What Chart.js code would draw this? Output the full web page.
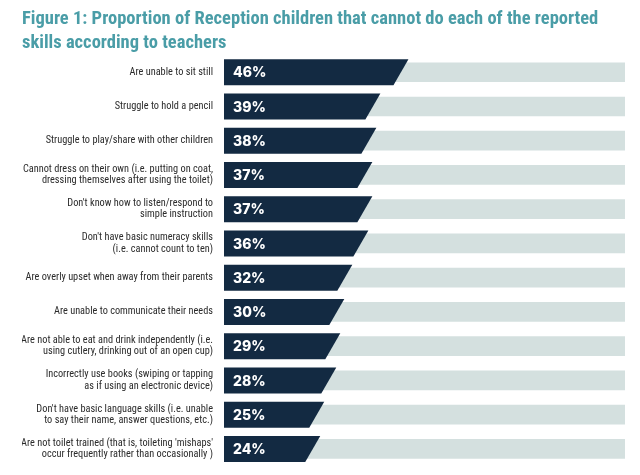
<!DOCTYPE html>
<html>
<head>
<meta charset="utf-8">
<script src="https://cdn.jsdelivr.net/npm/chart.js@4"></script>
<style>
  html, body { margin: 0; padding: 0; background: #ffffff; }
  #wrap { width: 640px; height: 475px; }
</style>
</head>
<body>
<div id="wrap"><canvas id="skillsChart"></canvas></div>
<script>

const skills = [
    "Are unable to sit still",
    "Struggle to hold a pencil",
    "Struggle to play/share with other children",
    ["Cannot dress on their own (i.e. putting on coat,", "dressing themselves after using the toilet)"],
    ["Don't know how to listen/respond to", "simple instruction"],
    ["Don't have basic numeracy skills", "(i.e. cannot count to ten)"],
    "Are overly upset when away from their parents",
    "Are unable to communicate their needs",
    ["Are not able to eat and drink independently (i.e.", "using cutlery, drinking out of an open cup)"],
    ["Incorrectly use books (swiping or tapping", "as if using an electronic device)"],
    ["Don't have basic language skills (i.e. unable", "to say their name, answer questions, etc.)"],
    ["Are not toilet trained (that is, toileting 'mishaps'", "occur frequently rather than occasionally )"]
];

const cannotDo = [46, 39, 38, 37, 37, 36, 32, 30, 29, 28, 25, 24];

const fullScale = [100, 100, 100, 100, 100, 100, 100, 100, 100, 100, 100, 100];

const titleLines = [
    "Figure 1: Proportion of Reception children that cannot do each of the reported",
    "skills according to teachers"
];

// slanted end of the dark bars + the white % labels
const slantBars = {
    id: 'slantBars',
    beforeDatasetDraw(chart, args){
        if(args.index !== 1) return;
        const ctx = chart.ctx;
        const meta = chart.getDatasetMeta(1);
        ctx.save();
        ctx.fillStyle = '#132a42';
        meta.data.forEach(el => {
            const p = el.getProps(['x', 'y', 'base', 'height'], true);
            const top = p.y - p.height / 2;
            const bottom = p.y + p.height / 2;
            ctx.beginPath();
            ctx.moveTo(p.base, top);
            ctx.lineTo(p.x, top);
            ctx.lineTo(p.x - 15, bottom);
            ctx.lineTo(p.base, bottom);
            ctx.closePath();
            ctx.fill();
        });
        ctx.restore();
        return false;
    },
    afterDatasetsDraw(chart){
        const ctx = chart.ctx;
        const meta = chart.getDatasetMeta(1);
        ctx.save();
        ctx.fillStyle = '#ffffff';
        ctx.font = '800 14px Inter';
        ctx.textBaseline = 'middle';
        ctx.textAlign = 'left';
        meta.data.forEach((el, i) => {
            const p = el.getProps(['y', 'base'], true);
            ctx.fillText(cannotDo[i] + '%', p.base + 9, p.y + 1);
        });
        ctx.restore();
    }
};

new Chart(document.getElementById('skillsChart'), {
    type: 'bar',
    data: {
        labels: skills,
        datasets: [
            {
                label: 'Scale',
                data: fullScale,
                backgroundColor: '#d4e0df',
                barThickness: 19,
                grouped: false,
                order: 2
            },
            {
                label: 'Cannot do',
                data: cannotDo,
                backgroundColor: '#132a42',
                barThickness: 26,
                grouped: false,
                order: 1
            }
        ]
    },
    options: {
        indexAxis: 'y',
        responsive: true,
        maintainAspectRatio: false,
        animation: false,
        layout: {
            padding: { left: 22, right: 15, top: 7, bottom: 9 }
        },
        plugins: {
            legend: { display: false },
            tooltip: { enabled: false },
            title: {
                display: true,
                text: titleLines,
                align: 'start',
                color: '#4a9da7',
                font: { family: 'Roboto Condensed', size: 18.5, weight: 'bold', lineHeight: 1.3 },
                padding: { top: 0, bottom: 0 }
            }
        },
        scales: {
            x: {
                display: false,
                min: 0,
                max: 100
            },
            y: {
                grid: { display: false, drawTicks: false },
                border: { display: false },
                ticks: {
                    color: '#2b2b2b',
                    padding: 11,
                    autoSkip: false,
                    font: { family: 'Roboto Condensed', size: 10.3, lineHeight: 1.1 }
                },
                afterFit(scale){
                    scale.width = 202;
                    scale.paddingTop = 0;
                    scale.paddingBottom = 0;
                }
            }
        }
    },
    plugins: [slantBars]
});
</script>
</body>
</html>
